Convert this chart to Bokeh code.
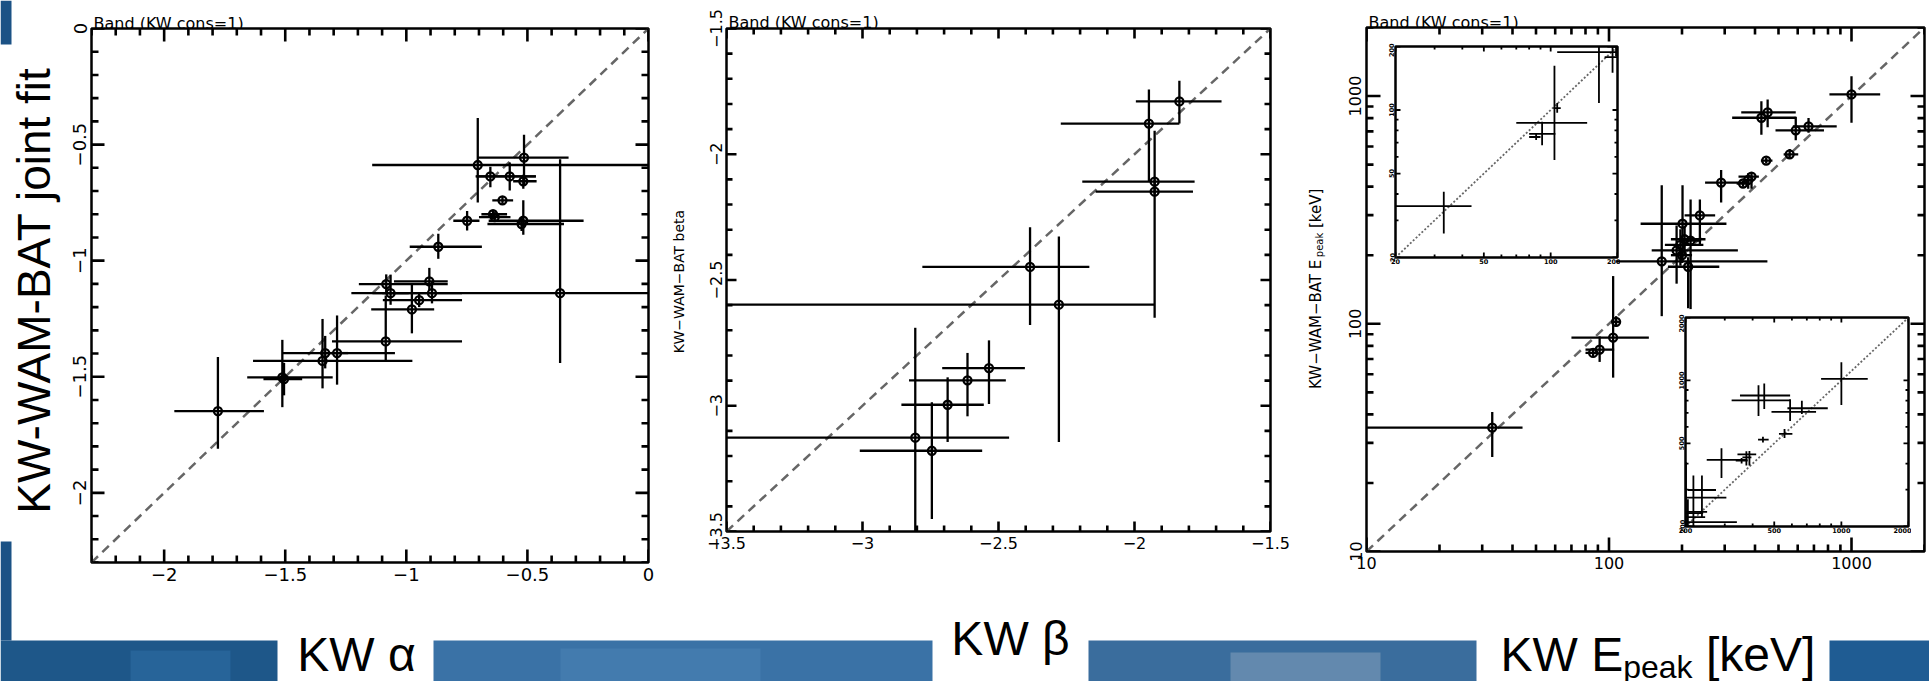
import math
from bokeh.plotting import figure
from bokeh.models import (ColumnDataSource, Range1d, FixedTicker, CustomJSTickFormatter)
from bokeh.embed import file_html
from bokeh.resources import INLINE
from bokeh.core.properties import value

# ---------------------------------------------------------------- data
# Panel 1: low-energy index alpha (KW alone vs KW-WAM-BAT joint fit)
kw_alpha       = [-1.778, -1.512, -1.505, -1.346, -1.335, -1.286, -1.085, -0.977, -0.947, -1.083, -1.065, -0.905, -0.894,
                  -0.365, -0.868, -0.749, -0.642, -0.635, -0.603, -0.517, -0.524, -0.705, -0.653, -0.573, -0.517, -0.514]
kw_alpha_lo    = [-1.958, -1.657, -1.590, -1.633, -1.512, -1.330, -1.307, -1.145, -1.097, -1.196, -1.140, -1.051, -1.099,
                  -1.227, -0.986, -0.806, -0.690, -0.700, -0.645, -0.660, -0.665, -1.141, -0.714, -0.711, -0.559, -0.704]
kw_alpha_hi    = [-1.588, -1.304, -1.430, -0.975, -1.047, -1.240, -0.770, -0.885, -0.770, -0.829, -0.990, -0.829, -0.770,
                  0.05, -0.688, -0.698, -0.584, -0.570, -0.559, -0.268, -0.349, 0.05, -0.465, -0.465, -0.462, -0.330]
joint_alpha    = [-1.648, -1.503, -1.510, -1.432, -1.398, -1.398, -1.348, -1.210, -1.170, -1.101, -1.140, -1.089, -1.140,
                  -1.140, -0.940, -0.828, -0.800, -0.812, -0.740, -0.828, -0.842, -0.588, -0.637, -0.637, -0.658, -0.556]
joint_alpha_lo = [-1.810, -1.631, -1.580, -1.550, -1.464, -1.534, -1.432, -1.313, -1.200, -1.142, -1.190, -1.128, -1.184,
                  -1.441, -0.992, -0.870, -0.815, -0.825, -0.755, -0.888, -0.872, -0.749, -0.684, -0.698, -0.690, -0.675]
joint_alpha_hi = [-1.415, -1.341, -1.440, -1.251, -1.324, -1.236, -1.150, -1.100, -1.140, -1.059, -1.060, -1.031, -1.089,
                  -0.563, -0.884, -0.786, -0.785, -0.800, -0.725, -0.740, -0.812, -0.385, -0.595, -0.577, -0.630, -0.458]
alpha_limits = [-2.3, 0.0]
alpha_ticks = [-2.0, -1.5, -1.0, -0.5, 0.0]
alpha_minor = [-2.3, -2.2, -2.1, -1.9, -1.8, -1.7, -1.6, -1.4, -1.3, -1.2, -1.1,
               -0.9, -0.8, -0.7, -0.6, -0.4, -0.3, -0.2, -0.1]

# Panel 2: high-energy index beta
kw_beta       = [-1.835, -1.947, -1.926, -1.926, -2.278, -2.384, -2.535, -2.614, -2.687, -2.806, -2.745]
kw_beta_lo    = [-1.995, -2.271, -2.192, -2.143, -3.600, -2.780, -2.707, -2.829, -2.857, -3.600, -3.010]
kw_beta_hi    = [-1.680, -1.835, -1.779, -1.785, -1.926, -2.166, -2.403, -2.473, -2.554, -2.461, -2.560]
joint_beta    = [-1.790, -1.878, -2.109, -2.149, -2.598, -2.448, -2.850, -2.899, -2.996, -3.127, -3.179]
joint_beta_lo = [-1.878, -2.109, -2.160, -2.650, -3.144, -2.679, -2.993, -3.042, -3.144, -3.600, -3.450]
joint_beta_hi = [-1.708, -1.743, -1.907, -2.100, -2.327, -2.290, -2.740, -2.790, -2.887, -2.690, -2.986]
beta_limits = [-3.5, -1.5]
beta_ticks = [-3.5, -3.0, -2.5, -2.0, -1.5]
beta_minor = [-3.4, -3.3, -3.2, -3.1, -2.9, -2.8, -2.7, -2.6, -2.4, -2.3, -2.2, -2.1,
              -1.9, -1.8, -1.7, -1.6]

# Panel 3: peak energy [keV]
kw_epeak       = [33, 86, 91.5, 104, 107, 165, 190, 197, 201, 205, 212, 217, 237, 200,
                  290, 357, 375, 387, 445, 556, 425, 451, 589, 665, 1000]
kw_epeak_lo    = [9, 80, 80, 70, 103, 107, 150, 170, 135, 180, 175, 200, 205, 180,
                  249, 336, 360, 342, 423, 525, 322, 351, 486, 573, 811]
kw_epeak_hi    = [44, 90, 105, 146, 111, 450, 340, 245, 305, 250, 285, 240, 274, 220,
                  379, 380, 395, 415, 472, 603, 589, 589, 770, 869, 1313]
joint_epeak    = [35, 74.5, 77, 87, 102, 188, 210, 222, 275, 235, 178, 232, 299, 200,
                  417, 413, 428, 443, 521, 555, 803, 847, 707, 736, 1017]
joint_epeak_lo = [26, 72, 68, 58, 97, 108, 150, 180, 187, 200, 117, 116, 221, 185,
                  341, 400, 392, 392, 505, 530, 676, 730, 640, 690, 763]
joint_epeak_hi = [41, 77, 88, 162, 108, 406, 270, 260, 406, 270, 196, 351, 351, 215,
                  474, 425, 458, 460, 537, 585, 949, 966, 812, 800, 1222]
epeak_limits = [10, 2000]
epeak_ticks = [10, 100, 1000]
epeak_minor = [20, 30, 40, 50, 60, 70, 80, 90, 200, 300, 400, 500, 600, 700, 800, 900, 2000]
inset_low_limits = [20, 200]
inset_low_ticks = [20, 50, 100, 200]
inset_low_minor = [30, 40, 60, 70, 80, 90]
inset_high_limits = [200, 2000]
inset_high_ticks = [200, 500, 1000, 2000]
inset_high_minor = [300, 400, 600, 700, 800, 900]

panel_note = "Band (KW cons=1)"
big_ylabel = "KW-WAM-BAT joint fit"
x_title_alpha = "KW \u03b1"
x_title_beta = "KW \u03b2"
x_title_epeak = ["KW E", "peak", "[keV]"]
ylabel_beta = "KW\u2212WAM\u2212BAT beta"
ylabel_epeak = ["KW\u2212WAM\u2212BAT E", "peak", "[keV]"]

SLIDE_FONT = "Liberation Sans"
PLOT_FONT = "DejaVu Sans"
MINUS_FMT = CustomJSTickFormatter(code="""
var v = Math.round(tick * 100) / 100;
if (Math.abs(v) < 1e-9) { return '0'; }
return String(v).replace('-', '\u2212');
""")
LOG_FMT = CustomJSTickFormatter(code="return String(Math.round(tick));")


def place(p, left, top):
    p.styles = {"position": "absolute", "left": f"{left}px", "top": f"{top}px"}


def base_fig(frame, xr, yr, borders, log=False, outline=2.5):
    fw, fh = frame
    l, r, t, b = borders
    p = figure(width=l + fw + r, height=t + fh + b,
               x_range=Range1d(*xr), y_range=Range1d(*yr),
               x_axis_type="log" if log else "linear",
               y_axis_type="log" if log else "linear",
               output_backend="svg", toolbar_location=None,
               min_border_left=l, min_border_right=r, min_border_top=t, min_border_bottom=b,
               background_fill_color="white", border_fill_color=None,
               outline_line_color="black", outline_line_width=outline)
    p.title.visible = False
    p.grid.visible = False
    return p


def dress(p, frame, ticks, minor, limits, label_px, major_len, minor_len, tick_w, fmt,
          log=False, standoff=5, bold=False, color="black"):
    # labelled axes on the left and bottom (labels only; ticks are drawn inward below)
    for ax in list(p.xaxis) + list(p.yaxis):
        ax.ticker = FixedTicker(ticks=ticks)
        ax.formatter = fmt
        ax.axis_line_color = None
        ax.major_tick_line_color = None
        ax.minor_tick_line_color = None
        ax.major_tick_in = 0
        ax.major_tick_out = 0
        ax.minor_tick_in = 0
        ax.minor_tick_out = 0
        ax.major_label_text_font = PLOT_FONT
        ax.major_label_text_font_size = f"{label_px}px"
        ax.major_label_text_color = "black"
        ax.major_label_text_font_style = "bold" if bold else "normal"
        ax.major_label_standoff = standoff
    for ax in p.yaxis:
        ax.major_label_orientation = "vertical"
    fw, fh = frame
    lo, hi = limits
    for vals, length in ((ticks, major_len), (minor, minor_len)):
        n = len(vals)
        if log:
            fx = (hi / lo) ** (length / fw)
            fy = (hi / lo) ** (length / fh)
            b_end, t_end, l_end, r_end = lo * fy, hi / fy, lo * fx, hi / fx
        else:
            dx = (hi - lo) * length / fw
            dy = (hi - lo) * length / fh
            b_end, t_end, l_end, r_end = lo + dy, hi - dy, lo + dx, hi - dx
        src = ColumnDataSource(dict(v=vals, lo=[lo] * n, hi=[hi] * n,
                                    b=[b_end] * n, t=[t_end] * n, l=[l_end] * n, r=[r_end] * n))
        kw = dict(source=src, line_color=color, line_width=tick_w)
        p.segment(x0="v", x1="v", y0="lo", y1="b", **kw)
        p.segment(x0="v", x1="v", y0="hi", y1="t", **kw)
        p.segment(x0="lo", x1="l", y0="v", y1="v", **kw)
        p.segment(x0="hi", x1="r", y0="v", y1="v", **kw)


def draw_errors(p, x, xlo, xhi, y, ylo, yhi, width=2.3, markers=True, diag=None, dash="9 6", diag_w=2.5):
    if diag is not None:
        p.line(x=diag, y=diag, line_color="#666666", line_dash=dash, line_width=diag_w)
    src = ColumnDataSource(dict(x=x, xlo=xlo, xhi=xhi, y=y, ylo=ylo, yhi=yhi))
    p.segment(x0="xlo", y0="y", x1="xhi", y1="y", source=src, line_color="black", line_width=width)
    p.segment(x0="x", y0="ylo", x1="x", y1="yhi", source=src, line_color="black", line_width=width)
    if markers:
        p.scatter(x="x", y="y", source=src, marker="circle", size=8,
                  fill_color=None, line_color="black", line_width=2.3)


# ---------------------------------------------------------------- background slide
bg = figure(width=1929, height=681, x_range=Range1d(0, 1929), y_range=Range1d(681, 0),
            x_axis_location=None, y_axis_location=None, output_backend="svg", toolbar_location=None,
            min_border=0, background_fill_color="white", border_fill_color="white",
            outline_line_color=None)
bg.title.visible = False
bg.grid.visible = False
bg.quad(left=[0, 433, 1088, 1829, 0, 0], right=[277, 932, 1476, 1929, 11, 11],
        top=[640, 640, 640, 640, 0, 541], bottom=[681, 681, 681, 681, 44, 640],
        fill_color=["#1e5789", "#3a72a6", "#3a6d9d", "#1f5c93", "#1b5285", "#1b5285"],
        line_color=None)
bg.quad(left=[130, 560, 1230], right=[230, 760, 1380], top=[650, 648, 652], bottom=[681, 681, 681],
        fill_color=["#2d6da3", "#4a82b4", "#7f9db9"], fill_alpha=0.6, line_color=None)

bg.text(x=[33], y=[290], text=[big_ylabel], angle=math.pi / 2, text_font=value(SLIDE_FONT),
        text_font_size="46px", text_align="center", text_baseline="middle", text_color="black")
bg.text(x=[93, 728, 1368], y=[23, 22, 22], text=[panel_note] * 3, text_font=value(PLOT_FONT),
        text_font_size="16px", text_align="left", text_baseline="alphabetic", text_color="black")
bg.text(x=[678], y=[281], text=[ylabel_beta], angle=math.pi / 2, text_font=value(PLOT_FONT),
        text_font_size="14px", text_align="center", text_baseline="middle", text_color="black")
bg.text(x=[1315, 1319, 1315], y=[388.5, 256.7, 227.5], text=ylabel_epeak, angle=math.pi / 2,
        text_font=value(PLOT_FONT), text_font_size=["15px", "10px", "15px"],
        text_align="left", text_baseline="middle", text_color="black")
bg.text(x=[356, 1010], y=[654, 638], text=[x_title_alpha, x_title_beta], text_font=value(SLIDE_FONT),
        text_font_size="48px", text_align="center", text_baseline="alphabetic", text_color="black")
bg.text(x=[1500, 1622.7, 1705.4], y=[654, 666, 654], text=x_title_epeak, text_font=value(SLIDE_FONT),
        text_font_size=["48px", "32px", "48px"], text_align="left", text_baseline="alphabetic",
        text_color="black")
place(bg, 0, 0)

# ---------------------------------------------------------------- panel 1 (alpha)
f1 = (557, 534)
p1 = base_fig(f1, alpha_limits, alpha_limits, (60, 10, 28, 40))
draw_errors(p1, kw_alpha, kw_alpha_lo, kw_alpha_hi, joint_alpha, joint_alpha_lo, joint_alpha_hi,
            diag=alpha_limits)
dress(p1, f1, alpha_ticks, alpha_minor, alpha_limits, 18, 13, 7, 2.6, MINUS_FMT)
place(p1, 31, 0)

# ---------------------------------------------------------------- panel 2 (beta)
f2 = (544, 503)
p2 = base_fig(f2, beta_limits, beta_limits, (60, 30, 28, 40))
draw_errors(p2, kw_beta, kw_beta_lo, kw_beta_hi, joint_beta, joint_beta_lo, joint_beta_hi,
            diag=beta_limits)
dress(p2, f2, beta_ticks, beta_minor, beta_limits, 16, 10, 6, 2.6, MINUS_FMT)
place(p2, 666, 0)

# ---------------------------------------------------------------- panel 3 (Epeak)
f3 = (558, 524)
p3 = base_fig(f3, epeak_limits, epeak_limits, (60, 5, 27, 40), log=True)
draw_errors(p3, kw_epeak, kw_epeak_lo, kw_epeak_hi, joint_epeak, joint_epeak_lo, joint_epeak_hi,
            diag=epeak_limits)
dress(p3, f3, epeak_ticks, epeak_minor, epeak_limits, 16, 14, 7, 2.6, LOG_FMT, log=True)
place(p3, 1306, 0)

# ---------------------------------------------------------------- insets
fi1 = (222, 211)
in1 = base_fig(fi1, inset_low_limits, inset_low_limits, (12, 3, 3, 10), log=True)
draw_errors(in1, kw_epeak, kw_epeak_lo, kw_epeak_hi, joint_epeak, joint_epeak_lo, joint_epeak_hi,
            width=1.8, markers=False, diag=inset_low_limits, dash="2 2", diag_w=1.8)
dress(in1, fi1, inset_low_ticks, inset_low_minor, inset_low_limits, 6.5, 5, 3, 1.8, LOG_FMT,
      log=True, standoff=1, bold=True)
place(in1, 1383, 43)

fi2 = (223, 209)
in2 = base_fig(fi2, inset_high_limits, inset_high_limits, (12, 3, 3, 10), log=True)
draw_errors(in2, kw_epeak, kw_epeak_lo, kw_epeak_hi, joint_epeak, joint_epeak_lo, joint_epeak_hi,
            width=1.8, markers=False, diag=inset_high_limits, dash="2 2", diag_w=1.8)
dress(in2, fi2, inset_high_ticks, inset_high_minor, inset_high_limits, 6.5, 5, 3, 1.8, LOG_FMT,
      log=True, standoff=1, bold=True)
place(in2, 1673, 314)

open("out.html", "w").write(file_html([bg, p1, p2, p3, in1, in2], INLINE, title="KW-WAM-BAT joint fit"))
